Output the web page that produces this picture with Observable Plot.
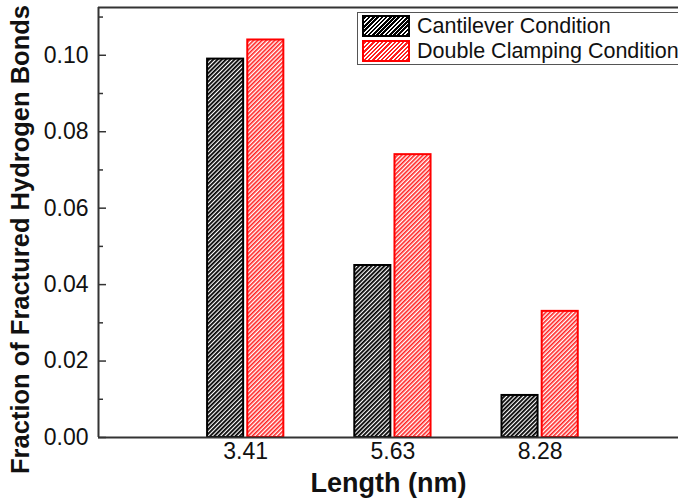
<!DOCTYPE html>
<html>
<head>
<meta charset="utf-8">
<script src="https://cdn.jsdelivr.net/npm/d3@7"></script>
<script src="https://cdn.jsdelivr.net/npm/@observablehq/plot@0.6"></script>
<style>
  html, body { margin: 0; padding: 0; background: #fff; }
  #wrap { position: relative; width: 678px; height: 499px; overflow: hidden; font-family: "Liberation Sans", Arial, sans-serif; }
  #legend { position: absolute; left: 357px; top: 12px; width: 340px; height: 53px; border: 1px solid #555; background: #fff; box-sizing: border-box; }
  .item { position: absolute; left: 4px; height: 22px; display: flex; align-items: center; }
  .sw { width: 44px; height: 18px; box-sizing: content-box; border: 2px solid; margin-right: 7px; }
  .sw.k { border-color: #000; background: repeating-linear-gradient(-45deg, #000 0 1.8px, #fff 1.8px 3px); }
  .sw.r { border-color: #ff0000; background: repeating-linear-gradient(-45deg, #ff2020 0 1.6px, #fff 1.6px 3px); }
  .lab { font-size: 21.5px; color: #111; white-space: nowrap; }
</style>
</head>
<body>
<div id="wrap"></div>
<script>
const lengths = ["3.41", "5.63", "8.28"];
const seriesNames = ["Cantilever Condition", "Double Clamping Condition"];
const cantilever = [0.099, 0.045, 0.011];
const doubleClamping = [0.104, 0.074, 0.033];
const yMajorTicks = [0, 0.02, 0.04, 0.06, 0.08, 0.10];
const yMinorTicks = [0.01, 0.03, 0.05, 0.07, 0.09, 0.11];

const rows = [];
lengths.forEach((L, i) => {
  rows.push({pos: i + 1, length: L, series: 0, value: cantilever[i]});
  rows.push({pos: i + 1, length: L, series: 1, value: doubleClamping[i]});
});
const barW = 0.245, gap = 0.014;
const x1 = d => d.series === 0 ? d.pos - gap - barW : d.pos + gap;
const x2 = d => d.series === 0 ? d.pos - gap : d.pos + gap + barW;

const yMax = 0.1125;
const xMax = 3.94;
const font = "Liberation Sans, Arial, sans-serif";

const chart = Plot.plot({
  width: 678,
  height: 499,
  marginLeft: 98,
  marginRight: 0,
  marginTop: 7,
  marginBottom: 62,
  style: {fontFamily: font, fontSize: "23px", color: "#111", background: "#fff", overflow: "visible"},
  x: {domain: [0, xMax]},
  y: {domain: [0, yMax]},
  marks: [
    Plot.rect(rows, {
      x1, x2, y1: 0, y2: "value",
      fill: d => d.series === 0 ? "url(#hatchK)" : "url(#hatchR)",
      stroke: d => d.series === 0 ? "#000" : "#ff0000",
      strokeWidth: 2
    }),
    Plot.axisY(yMajorTicks, {anchor: "left", tickSize: 0, tickPadding: 10, tickFormat: d3.format(".2f"), label: null, fill: "#111"}),
    Plot.axisY(yMajorTicks, {anchor: "left", tickSize: 8, dx: 8, text: null, label: null, strokeWidth: 1.5, stroke: "#333"}),
    Plot.axisY(yMinorTicks.filter(v => v <= yMax), {anchor: "left", tickSize: 5, dx: 5, text: null, label: null, strokeWidth: 1.5, stroke: "#333"}),
    Plot.axisX([1, 2, 3], {anchor: "bottom", tickSize: 0, tickPadding: 5, tickFormat: d => lengths[d - 1], label: null, fill: "#111"}),
    Plot.ruleY([0, yMax], {stroke: "#333", strokeWidth: 2}),
    Plot.ruleX([0], {stroke: "#333", strokeWidth: 2}),
    Plot.text(["Length (nm)"], {frameAnchor: "bottom", lineAnchor: "bottom", dy: 54, fontSize: 27, fontWeight: "bold", fill: "#111"}),
    Plot.text(["Fraction of Fractured Hydrogen Bonds"], {frameAnchor: "left", rotate: -90, dx: -78, dy: 17, lineAnchor: "middle", textAnchor: "middle", fontSize: 25.5, fontWeight: "bold", fill: "#111"})
  ]
});

const ns = "http://www.w3.org/2000/svg";
const svg = chart.tagName.toLowerCase() === "svg" ? chart : chart.querySelector("svg");
const defs = document.createElementNS(ns, "defs");
function addPattern(id, color, w) {
  const p = document.createElementNS(ns, "pattern");
  p.setAttribute("id", id);
  p.setAttribute("patternUnits", "userSpaceOnUse");
  p.setAttribute("width", "3");
  p.setAttribute("height", "3");
  p.setAttribute("patternTransform", "rotate(45)");
  const bg = document.createElementNS(ns, "rect");
  bg.setAttribute("width", "3"); bg.setAttribute("height", "3"); bg.setAttribute("fill", "#fff");
  const st = document.createElementNS(ns, "rect");
  st.setAttribute("width", w); st.setAttribute("height", "3"); st.setAttribute("fill", color);
  p.appendChild(bg); p.appendChild(st);
  defs.appendChild(p);
}
addPattern("hatchK", "#000", "1.8");
addPattern("hatchR", "#ff2020", "1.6");
svg.insertBefore(defs, svg.firstChild);

const wrap = document.getElementById("wrap");
wrap.appendChild(chart);

const legend = document.createElement("div");
legend.id = "legend";
seriesNames.forEach((name, i) => {
  const item = document.createElement("div");
  item.className = "item";
  item.style.top = (2 + i * 25) + "px";
  const sw = document.createElement("div");
  sw.className = "sw " + (i === 0 ? "k" : "r");
  const lab = document.createElement("span");
  lab.className = "lab";
  lab.textContent = name;
  item.appendChild(sw); item.appendChild(lab);
  legend.appendChild(item);
});
wrap.appendChild(legend);
</script>
</body>
</html>
